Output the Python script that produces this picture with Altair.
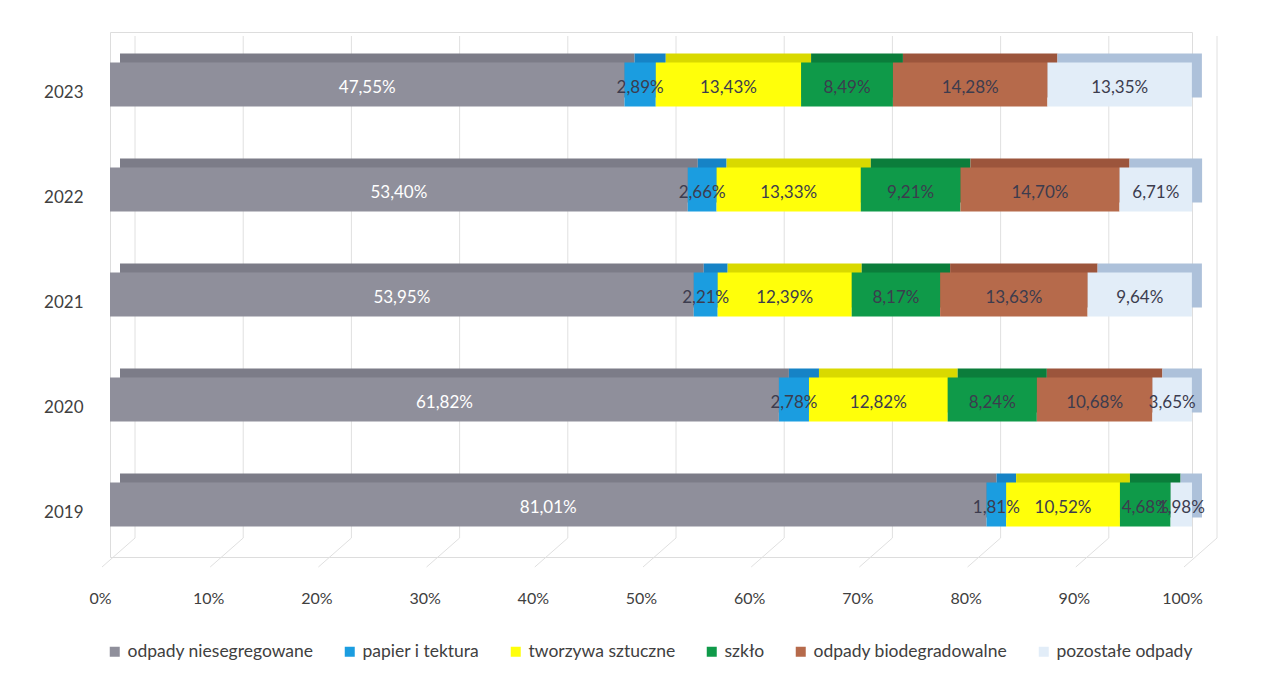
import altair as alt
import pandas as pd

years = ["2023", "2022", "2021", "2020", "2019"]
categories = ["odpady niesegregowane", "papier i tektura", "tworzywa sztuczne",
              "szkło", "odpady biodegradowalne", "pozostałe odpady"]
niesegregowane = [47.55, 53.40, 53.95, 61.82, 81.01]
papier = [2.89, 2.66, 2.21, 2.78, 1.81]
tworzywa = [13.43, 13.33, 12.39, 12.82, 10.52]
szklo = [8.49, 9.21, 8.17, 8.24, 4.68]
bio = [14.28, 14.70, 13.63, 10.68, 0.00]
pozostale = [13.35, 6.71, 9.64, 3.65, 1.98]
ticks = [0, 10, 20, 30, 40, 50, 60, 70, 80, 90, 100]

front_colors = ["#8f8f9b", "#1b9de0", "#ffff0a", "#0f9a49", "#b66a4b", "#e2edf8"]
top_colors = ["#7c7c88", "#1683c6", "#d9d900", "#0b7d3b", "#9c553c", "#adc1da"]
label_colors = ["#ffffff", "#3c3c4e", "#3c3c4e", "#3c3c4e", "#3c3c4e", "#3c3c4e"]

series = [niesegregowane, papier, tworzywa, szklo, bio, pozostale]
rows = []
for ci, (cat, vals) in enumerate(zip(categories, series)):
    for yi, y in enumerate(years):
        rows.append({"year": y, "cat": cat, "order": ci, "value": vals[yi],
                     "top": top_colors[ci], "lc": label_colors[ci]})
df = pd.DataFrame(rows)
tick_df = pd.DataFrame({"t": ticks})

FONT = "Lato"
H = 525

y_enc = alt.Y("year:N", sort=years, title=None,
              scale=alt.Scale(paddingInner=0.58, paddingOuter=0.29),
              axis=alt.Axis(domain=False, ticks=False, labelFontSize=17, labelFont=FONT,
                            labelColor="#404040", labelPadding=27, labelOffset=8))
x_scale = alt.Scale(domain=[0, 100], nice=False, zero=True)

base = alt.Chart(df).transform_stack(
    stack="value", groupby=["year"], as_=["v0", "v1"],
    sort=[alt.SortField("order", order="ascending")]
).transform_calculate(
    mid="(datum.v0 + datum.v1) / 2",
    label="replace(format(datum.value, '.2f'), '.', ',') + '%'"
)

grid_v = alt.Chart(tick_df).mark_rule(color="#e0e0e0", strokeWidth=1, xOffset=25).encode(
    x=alt.X("t:Q", scale=x_scale, title=None,
            axis=alt.Axis(domain=False, ticks=False, grid=False, labelFontSize=16,
                          labelFont=FONT, labelColor="#404040", labelPadding=33,
                          labelOffset=-10, labelFlush=False, values=ticks,
                          labelExpr="datum.value + '%'")),
    y=alt.value(4), y2=alt.value(506))
grid_d = alt.Chart(tick_df).mark_rule(color="#e0e0e0", strokeWidth=1, xOffset=25, x2Offset=-8).encode(
    x=alt.X("t:Q", scale=x_scale), x2="t:Q",
    y=alt.value(506), y2=alt.value(535))

shadow = base.mark_bar(xOffset=10, yOffset=-9, x2Offset=10, y2Offset=-9).encode(
    x=alt.X("v0:Q", scale=x_scale), x2="v1:Q", y=y_enc,
    color=alt.Color("top:N", scale=None), order=alt.Order("order:Q"))

front = base.mark_bar().encode(
    x=alt.X("v0:Q", scale=x_scale), x2="v1:Q", y=y_enc,
    color=alt.Color("cat:N", sort=categories,
                    scale=alt.Scale(domain=categories, range=front_colors),
                    legend=alt.Legend(title=None, orient="none", legendX=-4, legendY=611,
                                      direction="horizontal", columns=6, columnPadding=27,
                                      symbolType="square", symbolSize=100,
                                      symbolStrokeWidth=0, labelFont=FONT,
                                      labelFontSize=17.5, labelColor="#404040",
                                      labelOffset=4, gridAlign="none", labelLimit=400)),
    order=alt.Order("order:Q"))

labels = base.transform_filter("datum.value > 0").mark_text(
    font=FONT, fontSize=17, baseline="middle", dy=3).encode(
    x=alt.X("mid:Q", scale=x_scale), y=y_enc, text="label:N",
    color=alt.Color("lc:N", scale=None))

chart = alt.layer(grid_v, grid_d, shadow, front, labels).properties(
    width=1082, height=H,
    autosize=alt.AutoSizeParams(type="none"),
    padding={"left": 102, "top": 24, "right": 70, "bottom": 120},
).configure_view(stroke=None).configure(background="white")

chart.save("out.html", embed_options={"renderer": "svg", "actions": False})
